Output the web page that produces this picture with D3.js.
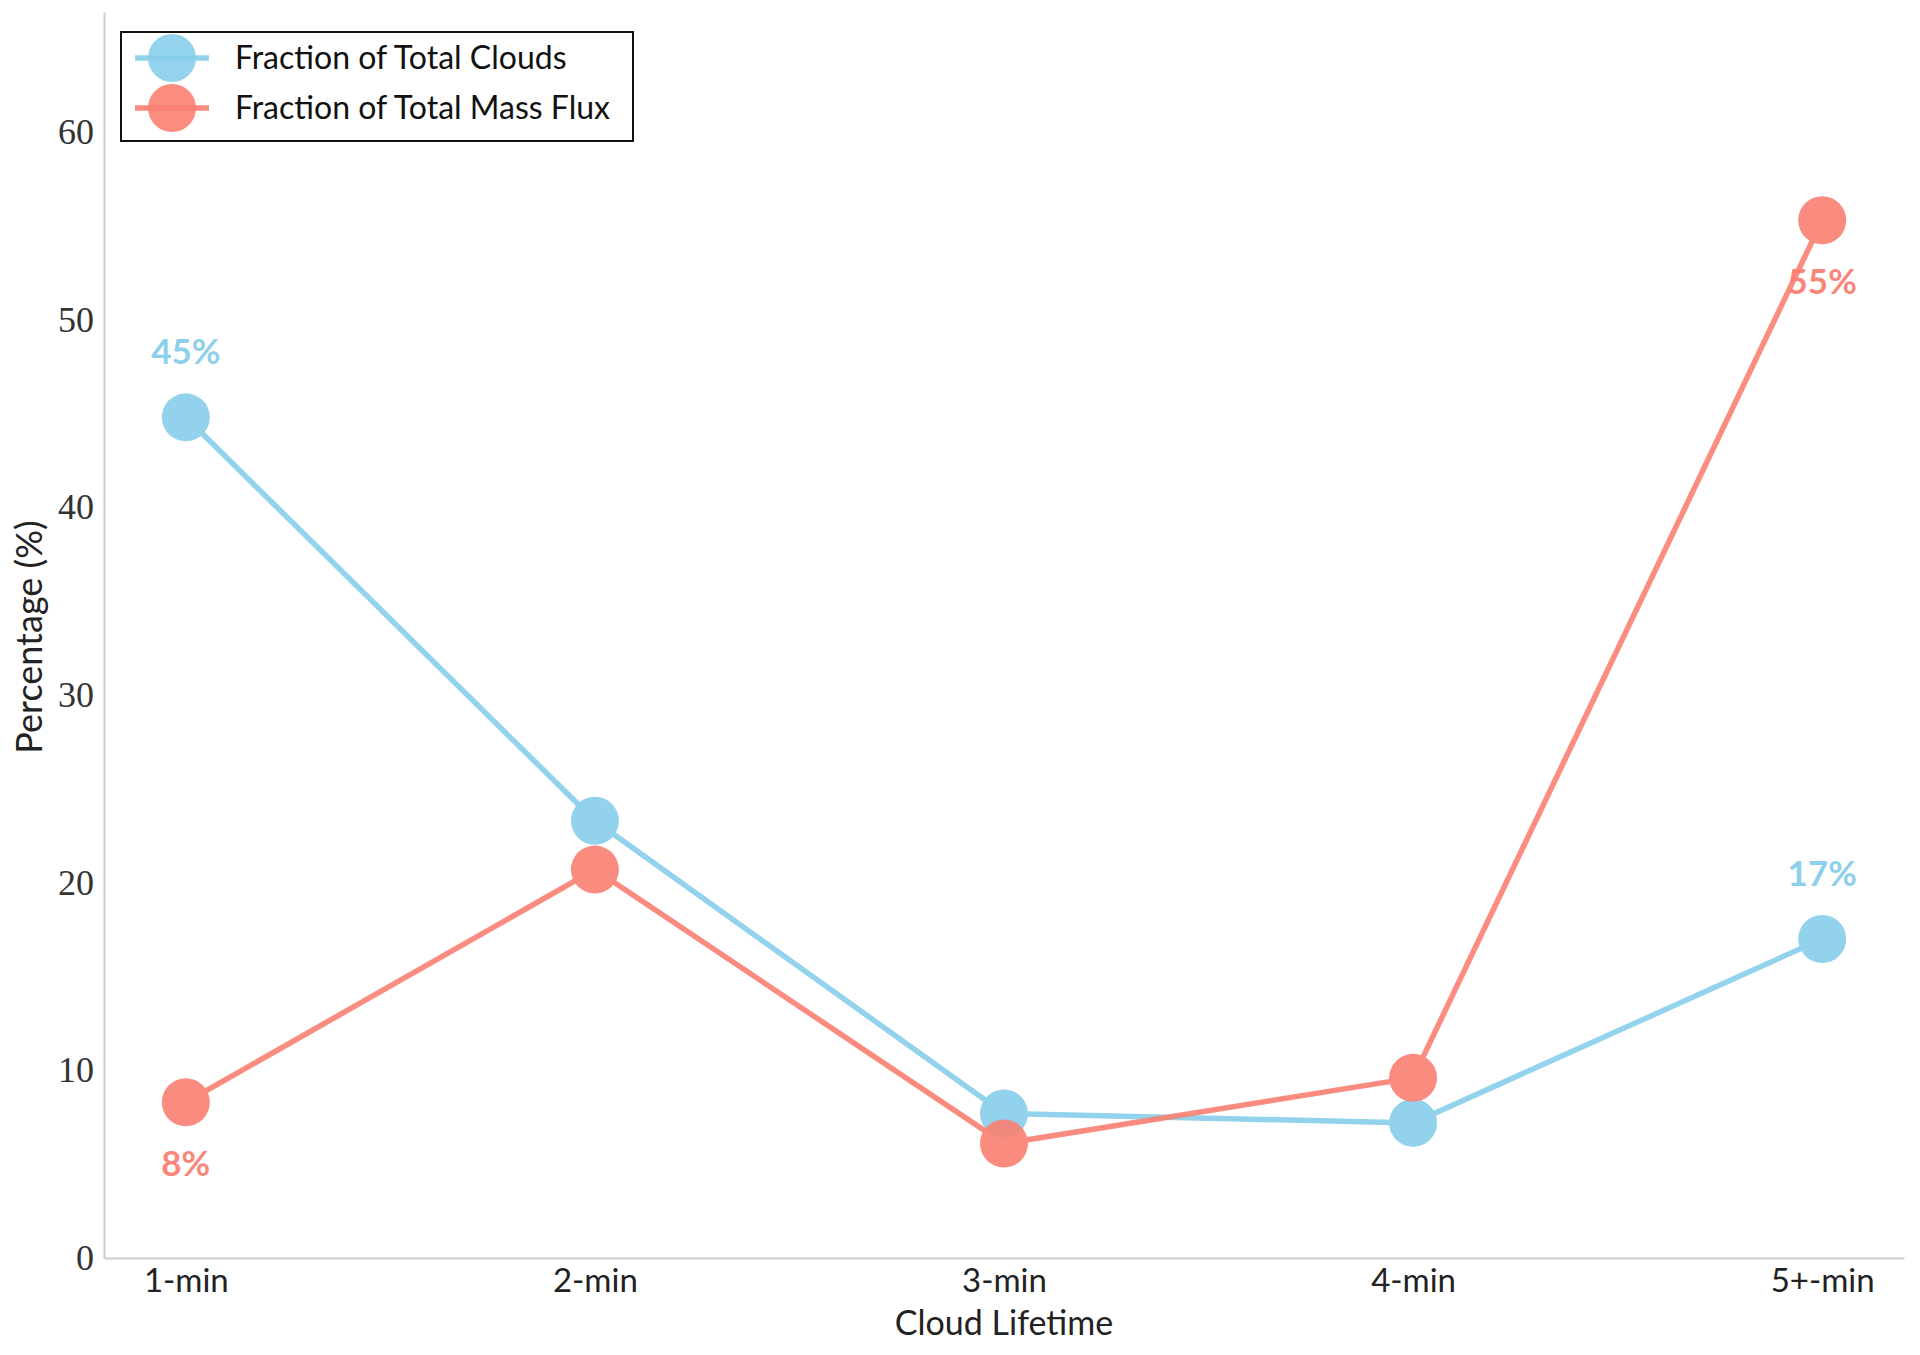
<!DOCTYPE html>
<html>
<head>
<meta charset="utf-8">
<script src="https://cdn.jsdelivr.net/npm/d3@7"></script>
<style>
  body { margin: 0; background: #fff; }
  svg { display: block; }
</style>
</head>
<body>
<svg id="chart" width="1920" height="1355"></svg>
<script>
// data
const categories = ["1-min", "2-min", "3-min", "4-min", "5+-min"]
const cloudFraction = [44.8, 23.3, 7.7, 7.2, 17.0]
const massFluxFraction = [8.3, 20.7, 6.1, 9.6, 55.3]
const yTicks = [0, 10, 20, 30, 40, 50, 60]
const annotations = [
    { series: "clouds", index: 0, text: "45%", side: "above" },
    { series: "mass", index: 0, text: "8%", side: "below" },
    { series: "clouds", index: 4, text: "17%", side: "above" },
    { series: "mass", index: 4, text: "55%", side: "below" }
]

const blue = "#87CEEB", red = "#FA8072"
const sans = "Lato, 'Open Sans', sans-serif"
const serif = "'Liberation Serif', 'DejaVu Serif', serif"

const margin = { left: 104, right: 16, top: 12, bottom: 97 }
const width = 1920 - margin.left - margin.right
const height = 1355 - margin.top - margin.bottom

const svg = d3.select("#chart")
const g = svg.append("g")
    .attr("transform", "translate(" + margin.left + "," + margin.top + ")")

const x = d3.scaleLinear().domain([-0.2, categories.length - 1 + 0.2]).range([0, width])
const y = d3.scaleLinear().domain([0, 66.4]).range([height, 0])

// axes
const xAxis = g.append("g")
    .attr("transform", "translate(0," + height + ")")
    .call(d3.axisBottom(x).tickValues(d3.range(categories.length)).tickFormat(i => categories[i]).tickSize(0).tickPadding(11))
xAxis.select(".domain").attr("stroke", "#cccccc").attr("stroke-width", 2)
xAxis.selectAll("text").attr("font-family", sans).attr("font-size", 33).attr("fill", "#222")

const yAxis = g.append("g")
    .call(d3.axisLeft(y).tickValues(yTicks).tickSize(0).tickPadding(10))
yAxis.select(".domain").attr("stroke", "#cccccc").attr("stroke-width", 2)
yAxis.selectAll("text").attr("font-family", serif).attr("font-size", 36).attr("fill", "#333")

g.append("text")
    .attr("x", width / 2)
    .attr("y", height + 77)
    .attr("text-anchor", "middle")
    .attr("font-family", sans).attr("font-size", 34).attr("fill", "#222")
    .text("Cloud Lifetime")

g.append("text")
    .attr("transform", "rotate(-90)")
    .attr("x", -(637 - margin.top))
    .attr("y", -margin.left + 42)
    .attr("text-anchor", "middle")
    .attr("font-family", sans).attr("font-size", 36).attr("fill", "#222")
    .text("Percentage (%)")

// series
const seriesList = [
    { key: "clouds", name: "Fraction of Total Clouds", values: cloudFraction, color: blue },
    { key: "mass", name: "Fraction of Total Mass Flux", values: massFluxFraction, color: red }
]

const line = d3.line().x((d, i) => x(i)).y(d => y(d))

seriesList.forEach(s => {
    const sg = g.append("g").attr("opacity", 0.9)
    sg.append("path")
        .datum(s.values)
        .attr("d", line)
        .attr("fill", "none")
        .attr("stroke", s.color)
        .attr("stroke-width", 5.5)
    sg.selectAll("circle")
        .data(s.values)
        .enter()
        .append("circle")
            .attr("cx", (d, i) => x(i))
            .attr("cy", d => y(d))
            .attr("r", 24)
            .attr("fill", s.color)
})

// value labels
annotations.forEach(a => {
    const s = seriesList.find(d => d.key == a.series)
    const v = s.values[a.index]
    g.append("text")
        .attr("x", x(a.index))
        .attr("y", y(a.side == "above" ? v + 3.5 : v - 3.3))
        .attr("dy", "0.35em")
        .attr("text-anchor", "middle")
        .attr("font-family", sans).attr("font-weight", "bold").attr("font-size", 35)
        .attr("fill", s.color).attr("opacity", 0.95)
        .text(a.text)
})

// legend
const legend = svg.append("g").attr("transform", "translate(121,32)")
legend.append("rect")
    .attr("width", 512).attr("height", 109)
    .attr("fill", "#fff").attr("stroke", "#111").attr("stroke-width", 2)
seriesList.forEach((s, i) => {
    const row = legend.append("g").attr("transform", "translate(0," + (26 + i * 50) + ")")
    row.append("line")
        .attr("x1", 14).attr("x2", 88).attr("y1", 0).attr("y2", 0)
        .attr("stroke", s.color).attr("stroke-width", 5.5).attr("opacity", 0.9)
    row.append("circle")
        .attr("cx", 51).attr("cy", 0).attr("r", 24)
        .attr("fill", s.color).attr("opacity", 0.9)
    row.append("text")
        .attr("x", 114).attr("y", 0).attr("dy", "0.35em")
        .attr("font-family", sans).attr("font-size", 32).attr("fill", "#111")
        .text(s.name)
})
</script>
</body>
</html>
